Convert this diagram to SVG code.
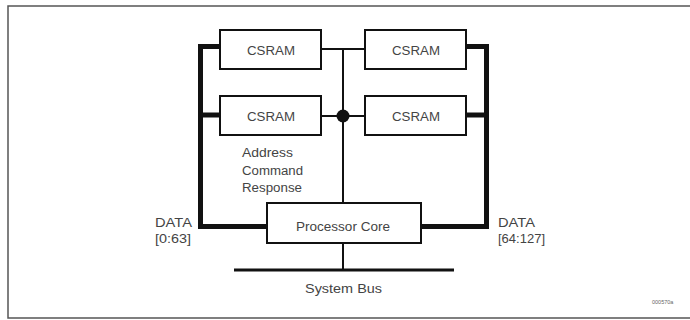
<svg xmlns="http://www.w3.org/2000/svg" width="690" height="320" viewBox="0 0 690 320">
  <style>
    .box { fill: #fff; stroke: #111; stroke-width: 2; }
    .lbl { font-family: "Liberation Sans", Arial, sans-serif; font-size: 12.5px; fill: #444; }
    .mid { text-anchor: middle; }
    .thick { stroke: #111; stroke-width: 5; fill: none; stroke-linejoin: miter; }
    .thin { stroke: #111; stroke-width: 2; fill: none; }
  </style>
  <rect x="0" y="0" width="690" height="320" fill="#fff"/>
  <rect x="8" y="6" width="690" height="312" fill="none" stroke="#555" stroke-width="1.5"/>

  <g id="connectors">
    <!-- DATA [0:63] bus -->
    <polyline class="thick" points="220,46.5 200.5,46.5 200.5,226.5 267,226.5"/>
    <line class="thick" x1="200.5" y1="115" x2="220" y2="115"/>
    <!-- DATA [64:127] bus -->
    <polyline class="thick" points="466,46.5 486.5,46.5 486.5,226.5 421,226.5"/>
    <line class="thick" x1="466" y1="115" x2="486.5" y2="115"/>
    <!-- address / command / response -->
    <line class="thin" x1="321" y1="49" x2="364" y2="49"/>
    <line class="thin" x1="321" y1="116" x2="364" y2="116"/>
    <line class="thin" x1="343" y1="49" x2="343" y2="203"/>
    <circle cx="343" cy="116" r="6.5" fill="#111"/>
    <!-- system bus -->
    <line class="thin" x1="343" y1="243" x2="343" y2="270"/>
    <line x1="234" y1="270" x2="454" y2="270" stroke="#111" stroke-width="3"/>
  </g>

  <g id="csram-1">
    <rect class="box" x="220" y="30" width="101" height="39"/>
    <text class="lbl" x="247" y="55" textLength="48" lengthAdjust="spacingAndGlyphs">CSRAM</text>
  </g>
  <g id="csram-2">
    <rect class="box" x="365" y="30" width="101" height="39"/>
    <text class="lbl" x="392" y="55" textLength="48" lengthAdjust="spacingAndGlyphs">CSRAM</text>
  </g>
  <g id="csram-3">
    <rect class="box" x="220" y="96" width="101" height="39"/>
    <text class="lbl" x="247" y="121" textLength="48" lengthAdjust="spacingAndGlyphs">CSRAM</text>
  </g>
  <g id="csram-4">
    <rect class="box" x="365" y="96" width="101" height="39"/>
    <text class="lbl" x="392" y="121" textLength="48" lengthAdjust="spacingAndGlyphs">CSRAM</text>
  </g>
  <g id="processor-core">
    <rect class="box" x="267" y="203" width="154" height="40"/>
    <text class="lbl" x="296" y="231" textLength="94" lengthAdjust="spacingAndGlyphs">Processor Core</text>
  </g>

  <g id="labels">
    <text class="lbl" x="242" y="157" textLength="51" lengthAdjust="spacingAndGlyphs">Address</text>
    <text class="lbl" x="242" y="175" textLength="61" lengthAdjust="spacingAndGlyphs">Command</text>
    <text class="lbl" x="242" y="192" textLength="60" lengthAdjust="spacingAndGlyphs">Response</text>
    <text class="lbl" x="155" y="227" textLength="37" lengthAdjust="spacingAndGlyphs">DATA</text>
    <text class="lbl" x="155" y="243" textLength="36" lengthAdjust="spacingAndGlyphs">[0:63]</text>
    <text class="lbl" x="498" y="227" textLength="37" lengthAdjust="spacingAndGlyphs">DATA</text>
    <text class="lbl" x="498" y="243" textLength="47" lengthAdjust="spacingAndGlyphs">[64:127]</text>
    <text class="lbl" x="305" y="293" textLength="77" lengthAdjust="spacingAndGlyphs">System Bus</text>
    <text x="652" y="304" font-family="Liberation Sans, Arial, sans-serif" font-size="5.5" fill="#666">000570a</text>
  </g>
</svg>
